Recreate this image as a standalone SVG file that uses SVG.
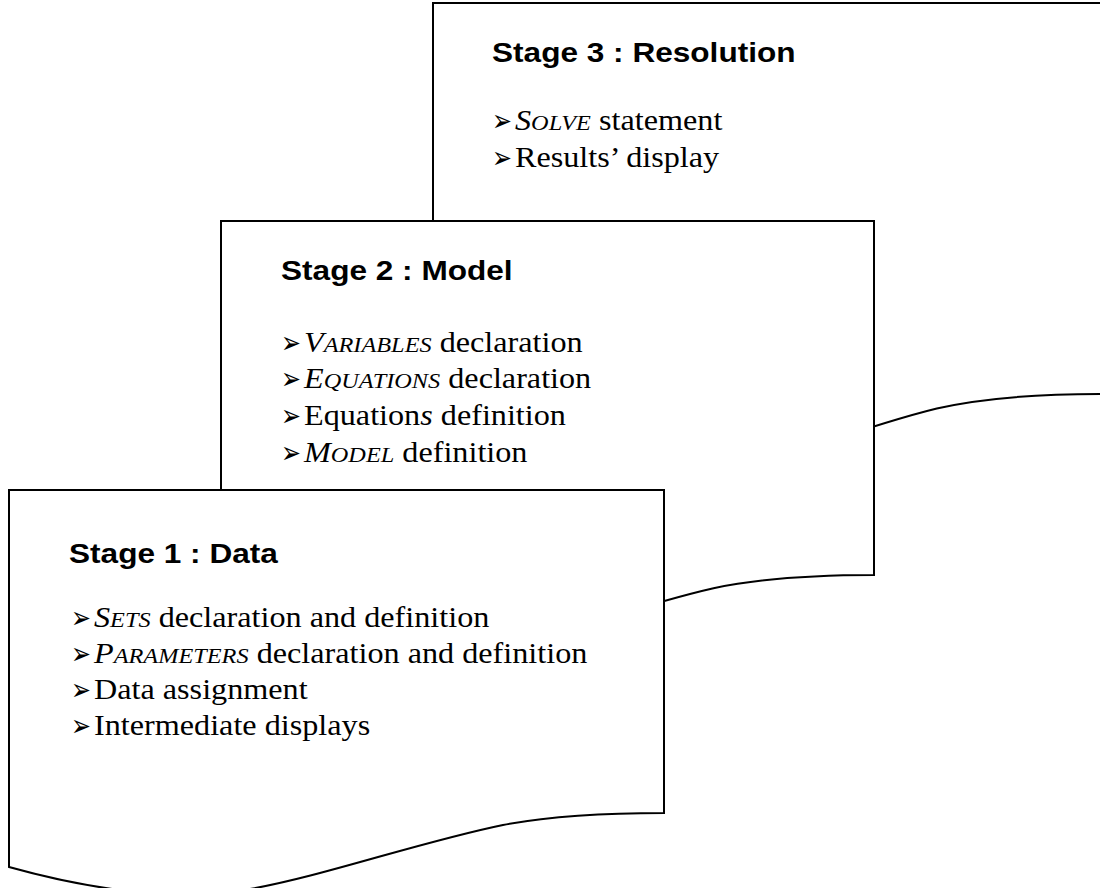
<svg xmlns="http://www.w3.org/2000/svg" width="1100" height="888" viewBox="0 0 1100 888">
<style>
.doc{fill:#fff;stroke:#000;stroke-width:2;stroke-linejoin:miter}
.t{font-family:"Liberation Sans",Arial,sans-serif;font-weight:bold;font-size:27px;fill:#000}
.b{font-family:"Liberation Serif","Times New Roman",serif;font-size:28.5px;fill:#000}
.i{font-style:italic}
.sc{font-size:21.5px}
.ar{font-family:"DejaVu Sans",sans-serif;font-size:30.5px;font-weight:bold;fill:#000}
</style>
<rect width="1100" height="888" fill="#fff"/>
<g id="stage3">
<path class="doc" d="M433,3 H1101 V394 C1035.7,394 979.6,398.8 936.8,408.5 C852.1,429.1 750.2,471.5 678.8,486 C597.2,505.4 495.2,480 433,459.4 Z"/>
<text class="t" transform="translate(492,62) scale(1.17,1)">Stage 3 : Resolution</text>
<text class="ar" transform="translate(492,131) scale(0.78,1)">➢</text>
<text class="b" transform="translate(515,130) scale(1.13,1)"><tspan class="i">S</tspan><tspan class="i sc">OLVE</tspan> statement</text>
<text class="ar" transform="translate(492,167.7) scale(0.78,1)">➢</text>
<text class="b" transform="translate(515,166.7) scale(1.13,1)">Results’ display</text>
</g>
<g id="stage2">
<path class="doc" d="M221,221 H874 V575 C810.2,575 755.4,579.4 713.5,588.2 C630.8,606.8 531.1,645.2 461.3,658.3 C381.5,675.8 281.8,652.8 221,634.2 Z"/>
<text class="t" transform="translate(281,280) scale(1.17,1)">Stage 2 : Model</text>
<text class="ar" transform="translate(281,352.7) scale(0.78,1)">➢</text>
<text class="b" transform="translate(304,351.7) scale(1.13,1)"><tspan class="i">V</tspan><tspan class="i sc">ARIABLES</tspan> declaration</text>
<text class="ar" transform="translate(281,389.3) scale(0.78,1)">➢</text>
<text class="b" transform="translate(304,388.3) scale(1.13,1)"><tspan class="i">E</tspan><tspan class="i sc">QUATIONS</tspan> declaration</text>
<text class="ar" transform="translate(281,426) scale(0.78,1)">➢</text>
<text class="b" transform="translate(304,425) scale(1.13,1)">Equation<tspan class="i">s</tspan> definition</text>
<text class="ar" transform="translate(281,462.7) scale(0.78,1)">➢</text>
<text class="b" transform="translate(304,461.7) scale(1.13,1)"><tspan class="i">M</tspan><tspan class="i sc">ODEL</tspan> definition</text>
</g>
<g id="stage1">
<path class="doc" d="M9,490 H664 V813 C600,813 545,817 503,825 C420,842 320,877 250,889 C170,905 70,884 9,867 Z"/>
<text class="t" transform="translate(69,563) scale(1.17,1)">Stage 1 : Data</text>
<text class="ar" transform="translate(71,628) scale(0.78,1)">➢</text>
<text class="b" transform="translate(94,627) scale(1.13,1)"><tspan class="i">S</tspan><tspan class="i sc">ETS</tspan> declaration and definition</text>
<text class="ar" transform="translate(71,664) scale(0.78,1)">➢</text>
<text class="b" transform="translate(94,663) scale(1.13,1)"><tspan class="i">P</tspan><tspan class="i sc">ARAMETERS</tspan> declaration and definition</text>
<text class="ar" transform="translate(71,700) scale(0.78,1)">➢</text>
<text class="b" transform="translate(94,699) scale(1.13,1)">Data assignment</text>
<text class="ar" transform="translate(71,736) scale(0.78,1)">➢</text>
<text class="b" transform="translate(94,735) scale(1.13,1)">Intermediate displays</text>
</g>
<g id="connectors"/>
</svg>
